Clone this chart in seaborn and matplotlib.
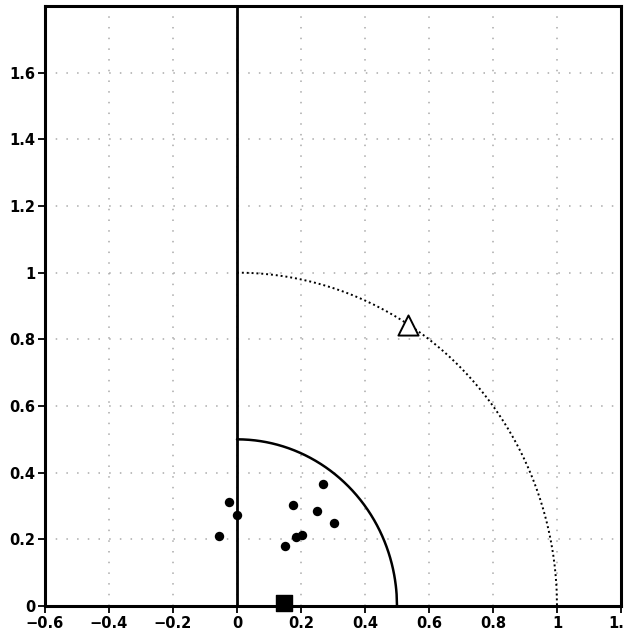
import numpy as np
import pandas as pd
import matplotlib
matplotlib.use("Agg")
import matplotlib.pyplot as plt
import seaborn as sns

# Sample points (x, y)
pts_x = [-0.024, 0.001, -0.057, 0.174, 0.270, 0.249, 0.303, 0.202, 0.183, 0.151]
pts_y = [0.311, 0.274, 0.210, 0.303, 0.366, 0.284, 0.249, 0.213, 0.206, 0.180]

# Reference markers
square_x, square_y = [0.146], [0.01]
triangle_x, triangle_y = [0.535], [0.842]

# Circle radii
radius_inner = 0.5
radius_outer = 1.0

x_ticks = [-0.6, -0.4, -0.2, 0, 0.2, 0.4, 0.6, 0.8, 1, 1.2]
y_ticks = [0, 0.2, 0.4, 0.6, 0.8, 1, 1.2, 1.4, 1.6]

sns.set_theme(style="white")
plt.rcParams["font.family"] = ["DejaVu Sans"]

fig = plt.figure(figsize=(6.24, 6.34), dpi=100)
ax = fig.add_axes([45 / 624, 28 / 634, 576 / 624, 600 / 634])

# Grid
for xv in x_ticks:
    ax.axvline(xv, color="#aaaaaa", lw=1.1, ls=(0, (1, 6)), zorder=1)
for yv in y_ticks:
    ax.axhline(yv, color="#aaaaaa", lw=1.1, ls=(0, (1, 6)), zorder=1)

# Vertical axis through origin
ax.axvline(0, color="black", lw=2.0, zorder=2)

# Quarter circles
xs_in = np.linspace(0, radius_inner, 400)
ax.plot(xs_in, np.sqrt(np.clip(radius_inner**2 - xs_in**2, 0, None)),
        color="black", lw=1.8, zorder=2)
xs_out = np.linspace(0, radius_outer, 800)
ax.plot(xs_out, np.sqrt(np.clip(radius_outer**2 - xs_out**2, 0, None)),
        color="black", lw=1.4, ls=(0, (1, 1.5)), zorder=2)

df = pd.DataFrame({"x": pts_x, "y": pts_y})
sns.scatterplot(data=df, x="x", y="y", ax=ax, color="black", s=46,
                edgecolor="black", linewidth=0, zorder=4)

ax.scatter(square_x, square_y, marker="s", s=120, color="black",
           zorder=5, clip_on=False)
ax.scatter(triangle_x, triangle_y, marker="^", s=210, facecolor="white",
           edgecolor="black", linewidth=1.4, zorder=5)

ax.set_xlim(-0.6, 1.2)
ax.set_ylim(0, 1.8)
ax.set_xticks(x_ticks)
ax.set_yticks(y_ticks)
ax.set_xticklabels([f"{v:g}".replace("-", "\u2212") for v in x_ticks])
ax.set_yticklabels([f"{v:g}".replace("-", "\u2212") for v in y_ticks])
ax.set_xlabel("")
ax.set_ylabel("")
ax.tick_params(axis="both", direction="out", length=5, width=1.3,
               labelsize=10.5, colors="black", pad=2, bottom=True, left=True)
for lbl in ax.get_xticklabels() + ax.get_yticklabels():
    lbl.set_fontweight("bold")

for sp in ax.spines.values():
    sp.set_visible(True)
    sp.set_color("black")
    sp.set_linewidth(2.2)

fig.savefig("out.png", dpi=100, facecolor="white")
